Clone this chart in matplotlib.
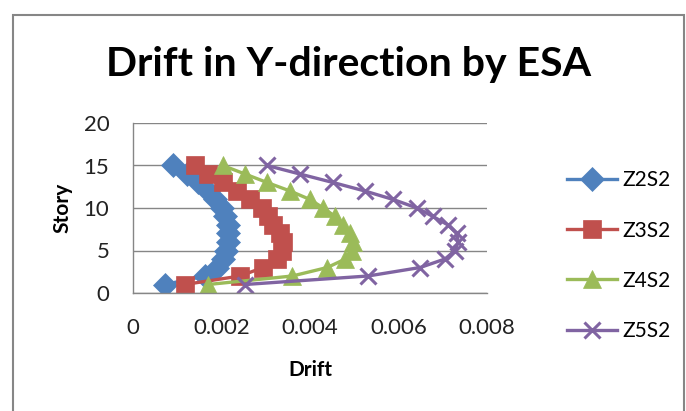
import matplotlib
matplotlib.use("Agg")
import matplotlib.pyplot as plt
from matplotlib.patches import Rectangle

# Story numbers and drift values
stories = [1, 2, 3, 4, 5, 6, 7, 8, 9, 10, 11, 12, 13, 14, 15]
z2s2 = [0.00072, 0.00163, 0.0019, 0.00203, 0.0021, 0.00215, 0.00215, 0.00215,
        0.00208, 0.002, 0.00185, 0.0017, 0.00147, 0.00122, 0.0009]
z3s2 = [0.00117, 0.00242, 0.00294, 0.00325, 0.00337, 0.0034, 0.00332, 0.00317,
        0.00305, 0.00292, 0.00264, 0.00235, 0.00203, 0.0017, 0.0014]
z4s2 = [0.0017, 0.0036, 0.00439, 0.0048, 0.00495, 0.00497, 0.0049, 0.00475,
        0.00457, 0.0043, 0.004, 0.00355, 0.00303, 0.00253, 0.00203]
z5s2 = [0.00253, 0.00531, 0.00649, 0.00705, 0.00728, 0.00735, 0.00732, 0.00712,
        0.00678, 0.00642, 0.00588, 0.00524, 0.00452, 0.00377, 0.00303]

series = [("Z2S2", z2s2, "#4F81BD", "D", 12),
          ("Z3S2", z3s2, "#C0504D", "s", 13),
          ("Z4S2", z4s2, "#9BBB59", "^", 13),
          ("Z5S2", z5s2, "#8064A2", "x", 12)]

plt.rcParams["font.family"] = ["Lato", "DejaVu Sans"]

fig = plt.figure(figsize=(6.86, 4.11), dpi=100)
ax = fig.add_axes([133 / 686, 118 / 411, 354 / 686, 170 / 411])

for name, vals, col, mk, ms in series:
    ax.plot(vals, stories, color=col, lw=2.4, marker=mk, markersize=ms,
            markeredgewidth=2.2 if mk == "x" else 0.5, markeredgecolor=col,
            label=name)

ax.set_xlim(0, 0.008)
ax.set_ylim(0, 20)
ax.set_xticks([0, 0.002, 0.004, 0.006, 0.008])
ax.set_xticklabels(["0", "0.002", "0.004", "0.006", "0.008"])
ax.set_yticks([0, 5, 10, 15, 20])
ax.tick_params(length=0, labelsize=16, colors="#222222")
ax.tick_params(axis="y", pad=17)
ax.tick_params(axis="x", pad=18)
ax.grid(axis="y", color="#868686", lw=1)
ax.set_axisbelow(True)
for s in ["top", "right"]:
    ax.spines[s].set_visible(False)
for s in ["left", "bottom"]:
    ax.spines[s].set_color("#868686")
    ax.spines[s].set_linewidth(1)

ax.set_xlabel("Drift", fontsize=15, fontweight="bold", labelpad=16)
ax.set_ylabel("Story", fontsize=15, fontweight="bold", labelpad=8)

fig.text(0.508, 0.842, "Drift in Y-direction by ESA", ha="center", va="center",
         fontsize=29.5, fontweight="bold")

fig.legend(loc="center left", bbox_to_anchor=(548 / 686, 0.378), frameon=False,
           fontsize=15, handlelength=2.4, handletextpad=0.25, labelspacing=1.45)

fig.patches.append(Rectangle((13 / 686, -0.1), 671 / 686, 1.1 - 15 / 411,
                             transform=fig.transFigure, fill=False,
                             edgecolor="#868686", lw=1.5))

fig.savefig("out.png", dpi=100)
